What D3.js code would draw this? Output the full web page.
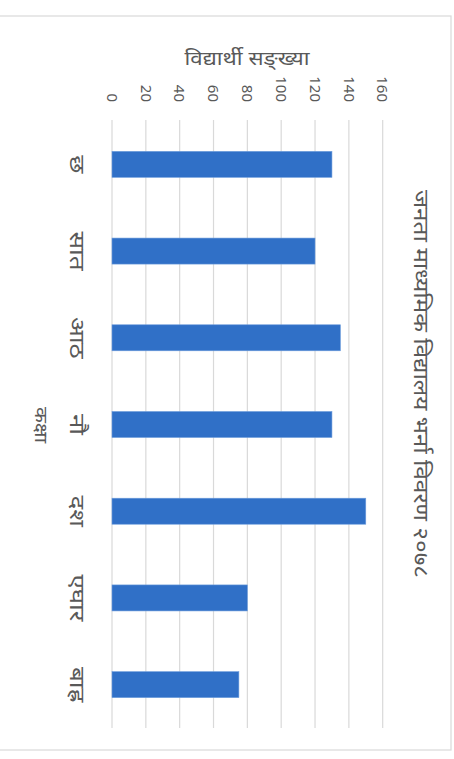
<!DOCTYPE html>
<html><head><meta charset="utf-8">
<script src="https://cdn.jsdelivr.net/npm/d3@7"></script>
<style>html,body{margin:0;padding:0;background:#fff;overflow:hidden}svg{display:block}</style>
</head><body>
<script>
const categories = ["छ", "सात", "आठ", "नौ", "दश", "एघार", "बाह्र"];
const values = [130, 120, 135, 130, 150, 80, 75];
const valueTicks = [0, 20, 40, 60, 80, 100, 120, 140, 160];
const title = "जनता माध्यमिक विद्यालय भर्ना विवरण २०७८";
const valueTitle = "विद्यार्थी सङ्ख्या";
const catTitle = "कक्षा";

const W = 454, H = 759;
const svg = d3.select("body").append("svg").attr("width", W).attr("height", H);
// chart drawn in unrotated coords (u across 759, v down 454), then rotated 90deg clockwise
const g = svg.append("g").attr("transform", `translate(${W},0) rotate(90)`);
const font = "'Noto Sans', 'DejaVu Sans', sans-serif";
const txt = "#595959";

// chart border
g.append("rect").attr("x", 16).attr("y", 3).attr("width", 734).attr("height", 470)
  .attr("fill", "none").attr("stroke", "#d9d9d9").attr("stroke-width", 1.2);

const x = d3.scaleBand().domain(categories).range([121, 728]).paddingInner(0.7).paddingOuter(0.35);
const y = d3.scaleLinear().domain([0, 160]).range([342, 71.3]);

// gridlines
g.append("g").selectAll("line").data(valueTicks).join("line")
  .attr("x1", 120).attr("x2", 728)
  .attr("y1", d => y(d)).attr("y2", d => y(d))
  .attr("stroke", "#d9d9d9").attr("stroke-width", 1.2);

// bars
g.append("g").selectAll("rect").data(values).join("rect")
  .attr("x", (d, i) => x(categories[i]))
  .attr("width", x.bandwidth())
  .attr("y", d => y(d))
  .attr("height", d => y(0) - y(d))
  .attr("fill", "#3070c7").attr("stroke", "#6e9ddc").attr("stroke-width", 0.6);

// value tick labels
g.append("g").selectAll("text").data(valueTicks).join("text")
  .attr("x", 102).attr("y", d => y(d)).attr("dy", "0.35em")
  .attr("text-anchor", "end").attr("font-family", font).attr("font-size", 15)
  .attr("fill", txt).text(d => d);

// category labels (widened to match the reference's broader Devanagari face)
g.append("g").selectAll("text").data(categories).join("text")
  .attr("transform", d => `translate(${x(d) + x.bandwidth() / 2},377) scale(1.3,1)`)
  .attr("dy", "0.35em")
  .attr("text-anchor", "middle").attr("font-family", font).attr("font-size", 20)
  .attr("fill", txt).text(d => d);

// value axis title
g.append("text").attr("transform", `translate(58,207) rotate(-90)`).attr("dy", "0.35em")
  .attr("text-anchor", "middle").attr("font-family", font).attr("font-size", 19)
  .attr("textLength", 125).attr("lengthAdjust", "spacingAndGlyphs")
  .attr("fill", txt).text(valueTitle);

// category axis title
g.append("text").attr("transform", "translate(425,413) scale(1.15,1)").attr("dy", "0.35em")
  .attr("text-anchor", "middle").attr("font-family", font).attr("font-size", 18)
  .attr("fill", txt).text(catTitle);

// chart title
g.append("text").attr("x", 384).attr("y", 33).attr("dy", "0.35em")
  .attr("text-anchor", "middle").attr("font-family", font).attr("font-size", 21)
  .attr("textLength", 388).attr("lengthAdjust", "spacingAndGlyphs")
  .attr("fill", txt).text(title);
</script>
</body></html>
